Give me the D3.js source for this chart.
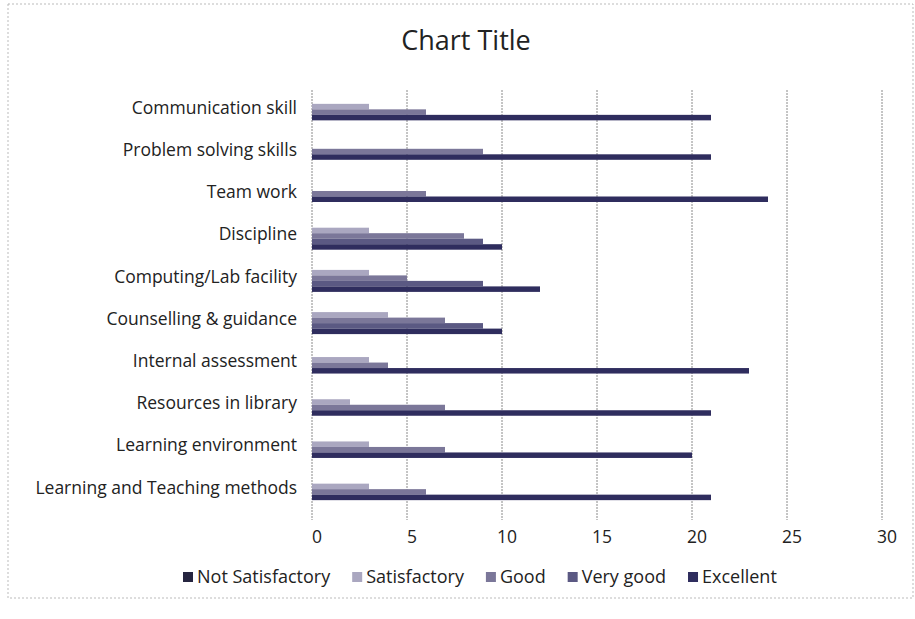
<!DOCTYPE html>
<html>
<head>
<meta charset="utf-8">
<script src="https://cdn.jsdelivr.net/npm/d3@7"></script>
<style>
  body { margin: 0; background: #fff; }
  svg { font-family: "Open Sans", Carlito, Lato, sans-serif; }
  .grid line { stroke: #8a8a8a; stroke-width: 1; stroke-dasharray: 2,1; }
  .cat { font-size: 17.5px; fill: #222; }
  .tick-label { font-size: 17.5px; fill: #222; }
</style>
</head>
<body>
<svg width="915" height="619"></svg>
<script>
var categories = ["Communication skill", "Problem solving skills", "Team work", "Discipline",
  "Computing/Lab facility", "Counselling & guidance", "Internal assessment",
  "Resources in library", "Learning environment", "Learning and Teaching methods"];

var seriesNames = ["Not Satisfactory", "Satisfactory", "Good", "Very good", "Excellent"];

var notSatisfactory = [0, 0, 0, 0, 0, 0, 0, 0, 0, 0];
var satisfactory    = [3, 0, 0, 3, 3, 4, 3, 2, 3, 3];
var good            = [6, 9, 6, 8, 5, 7, 4, 7, 7, 6];
var veryGood        = [0, 0, 0, 9, 9, 9, 0, 0, 0, 0];
var excellent       = [21, 21, 24, 10, 12, 10, 23, 21, 20, 21];

var xTicks = [0, 5, 10, 15, 20, 25, 30];

var values = [notSatisfactory, satisfactory, good, veryGood, excellent];
var colors = ["#262540", "#aaa7c0", "#7b7799", "#5b5983", "#2f2d5e"];

var svg = d3.select("svg");

// faint outer border like the scanned page
svg.append("rect")
  .attr("x", 8).attr("y", 4).attr("width", 905).attr("height", 594)
  .attr("fill", "none").attr("stroke", "#bbb").attr("stroke-dasharray", "2,2");

var x = d3.scaleLinear().domain([0, 30]).range([312, 882]);

var y = d3.scaleBand()
  .domain(categories)
  .range([91, 513])
  .paddingInner(0).paddingOuter(0);

var barH = 5.5;

// gridlines
svg.append("g").attr("class", "grid")
  .selectAll("line")
  .data(xTicks)
  .enter().append("line")
  .attr("x1", d => x(d)).attr("x2", d => x(d))
  .attr("y1", 90).attr("y2", 520);

// tick labels
svg.append("g").selectAll("text")
  .data(xTicks)
  .enter().append("text")
  .attr("class", "tick-label")
  .attr("x", d => x(d) + 5)
  .attr("y", 543)
  .attr("text-anchor", "middle")
  .text(d => d);

// bars: only non-zero series drawn, packed around the category centre
var rows = categories.map(function (c, i) {
  var items = [];
  seriesNames.forEach(function (s, j) {
    if (values[j][i] > 0) items.push({ cat: c, series: s, idx: j, value: values[j][i] });
  });
  return items;
});

rows.forEach(function (items) {
  var inner = d3.scaleBand()
    .domain(items.map(d => d.series))
    .range([-items.length * barH / 2, items.length * barH / 2]);
  svg.append("g").selectAll("rect")
    .data(items)
    .enter().append("rect")
    .attr("x", x(0))
    .attr("y", d => y(d.cat) + y.bandwidth() / 2 + inner(d.series))
    .attr("width", d => x(d.value) - x(0))
    .attr("height", inner.bandwidth())
    .attr("fill", d => colors[d.idx]);
});

// category labels
svg.append("g").selectAll("text")
  .data(categories)
  .enter().append("text")
  .attr("class", "cat")
  .attr("x", 297)
  .attr("y", d => y(d) + y.bandwidth() / 2)
  .attr("dy", "0.1em")
  .attr("text-anchor", "end")
  .text(d => d);

// title
svg.append("text")
  .attr("x", 466).attr("y", 50)
  .attr("text-anchor", "middle")
  .style("font-size", "27px").style("fill", "#222")
  .text("Chart Title");

// legend
var legend = svg.append("g").attr("transform", "translate(183,583)");
var lx = 0;
seriesNames.forEach(function (s, j) {
  var item = legend.append("g").attr("transform", "translate(" + lx + ",0)");
  item.append("rect").attr("x", 0).attr("y", -11).attr("width", 10).attr("height", 10)
    .attr("fill", colors[j]);
  var t = item.append("text").attr("x", 14).attr("y", 0)
    .style("font-size", "18px").style("fill", "#222").text(s);
  lx += 14 + t.node().getComputedTextLength() + 22;
});
</script>
</body>
</html>
